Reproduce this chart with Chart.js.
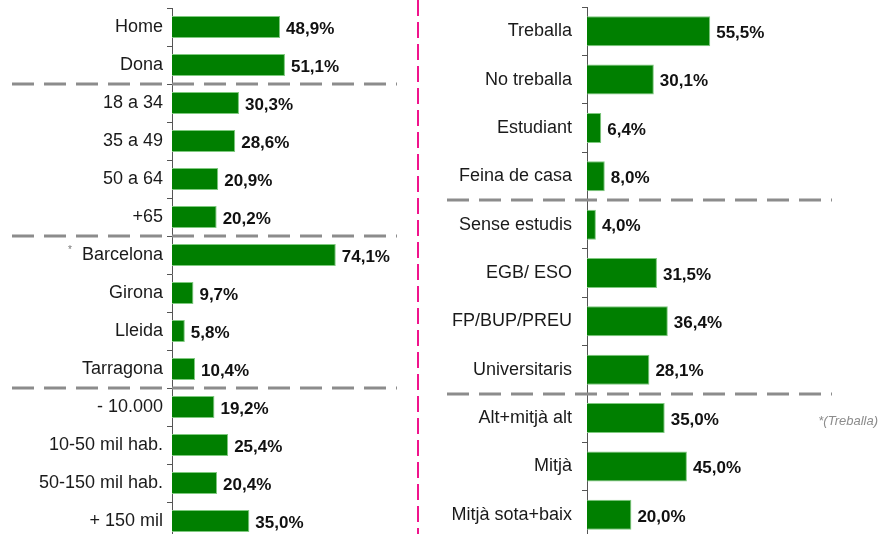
<!DOCTYPE html>
<html>
<head>
<meta charset="utf-8">
<script src="https://cdn.jsdelivr.net/npm/chart.js@4"></script>
<style>
  html, body { margin: 0; padding: 0; background: #fff; overflow: hidden; }
  .box { position: absolute; top: 0; }
</style>
</head>
<body>
<div class="box" style="left:0;width:420px;height:545px"><canvas id="leftChart"></canvas></div>
<div class="box" style="left:420px;width:459px;height:545px"><canvas id="rightChart"></canvas></div>
<script>
// left panel: sexe, edat, provincia, habitat
const leftLabels = ["Home", "Dona", "18 a 34", "35 a 49", "50 a 64", "+65",
    "Barcelona", "Girona", "Lleida", "Tarragona",
    "- 10.000", "10-50 mil hab.", "50-150 mil hab.", "+ 150 mil"];
const leftValues = [48.9, 51.1, 30.3, 28.6, 20.9, 20.2, 74.1, 9.7, 5.8, 10.4, 19.2, 25.4, 20.4, 35.0];
const leftBreaks = [2, 6, 10]; // dashed line before these indexes

// right panel: ocupacio, estudis, classe social
const rightLabels = ["Treballa", "No treballa", "Estudiant", "Feina de casa",
    "Sense estudis", "EGB/ ESO", "FP/BUP/PREU", "Universitaris",
    "Alt+mitjà alt", "Mitjà", "Mitjà sota+baix"];
const rightValues = [55.5, 30.1, 6.4, 8.0, 4.0, 31.5, 36.4, 28.1, 35.0, 45.0, 20.0];
const rightBreaks = [4, 8];

const FONT = "'Liberation Sans', Arial, sans-serif";

function fmt(v) {
    return v.toFixed(1).replace(".", ",") + "%";
}

// value labels + group separators
function extrasPlugin(breaks, x0, x1, extra) {
    return {
        id: "extras",
        afterDatasetsDraw(chart) {
            const ctx = chart.ctx;
            const meta = chart.getDatasetMeta(0);
            const values = chart.data.datasets[0].data;
            ctx.save();
            ctx.font = "bold 17px " + FONT;
            ctx.fillStyle = "#111";
            ctx.textAlign = "left";
            ctx.textBaseline = "middle";
            meta.data.forEach((bar, i) => {
                ctx.fillText(fmt(values[i]), bar.x + 6, bar.y + 2);
            });

            const y = chart.scales.y;
            ctx.strokeStyle = "#8c8c8c";
            ctx.lineWidth = 3;
            ctx.setLineDash([22, 10]);
            breaks.forEach(b => {
                const py = Math.round((y.getPixelForValue(b - 1) + y.getPixelForValue(b)) / 2);
                ctx.beginPath();
                ctx.moveTo(x0, py);
                ctx.lineTo(x1, py);
                ctx.stroke();
            });
            ctx.restore();
            if (extra) extra(chart);
        }
    };
}

function makeChart(id, labels, values, axisWidth, padRight, padTop, padBottom, barPct, labelPad, breaks, x0, x1, extra) {
    return new Chart(document.getElementById(id), {
        type: "bar",
        data: {
            labels: labels,
            datasets: [{
                data: values,
                backgroundColor: "#007f00",
                borderColor: "#7fc97f",
                borderWidth: 1,
                categoryPercentage: 1,
                barPercentage: barPct
            }]
        },
        options: {
            indexAxis: "y",
            responsive: true,
            maintainAspectRatio: false,
            animation: false,
            layout: { padding: { top: padTop, bottom: padBottom, right: padRight, left: 0 } },
            plugins: { legend: { display: false }, tooltip: { enabled: false } },
            scales: {
                x: { display: false, min: 0, max: 100 },
                y: {
                    afterFit(scale) {
                        scale.width = axisWidth;
                        scale.paddingTop = 0;
                        scale.paddingBottom = 0;
                    },
                    border: { display: true, color: "#555", width: 1 },
                    grid: { drawOnChartArea: false, drawTicks: true, tickLength: 5, color: "#555", offset: true },
                    ticks: { color: "#1a1a1a", padding: labelPad, font: { family: FONT, size: 18 } }
                }
            }
        },
        plugins: [extrasPlugin(breaks, x0, x1, extra)]
    });
}

makeChart("leftChart", leftLabels, leftValues, 172, 27, 8, 5, 0.58, 4, leftBreaks, 12, 397, chart => {
    const ctx = chart.ctx;
    ctx.save();
    // asterisk before Barcelona
    ctx.font = "10px " + FONT;
    ctx.fillStyle = "#777";
    ctx.textBaseline = "middle";
    ctx.fillText("*", 68, chart.scales.y.getPixelForValue(6) - 5);
    // pink divider
    ctx.strokeStyle = "#f0148c";
    ctx.lineWidth = 2;
    ctx.setLineDash([16, 6]);
    ctx.beginPath();
    ctx.moveTo(418, 0);
    ctx.lineTo(418, 545);
    ctx.stroke();
    ctx.restore();
});

makeChart("rightChart", rightLabels, rightValues, 167, 70, 7, 6, 0.62, 10, rightBreaks, 27, 412, chart => {
    const ctx = chart.ctx;
    ctx.save();
    ctx.font = "italic 13px " + FONT;
    ctx.fillStyle = "#8c8c8c";
    ctx.textAlign = "right";
    ctx.textBaseline = "middle";
    ctx.fillText("*(Treballa)", 458, chart.scales.y.getPixelForValue(8) + 3);
    ctx.restore();
});
</script>
</body>
</html>
